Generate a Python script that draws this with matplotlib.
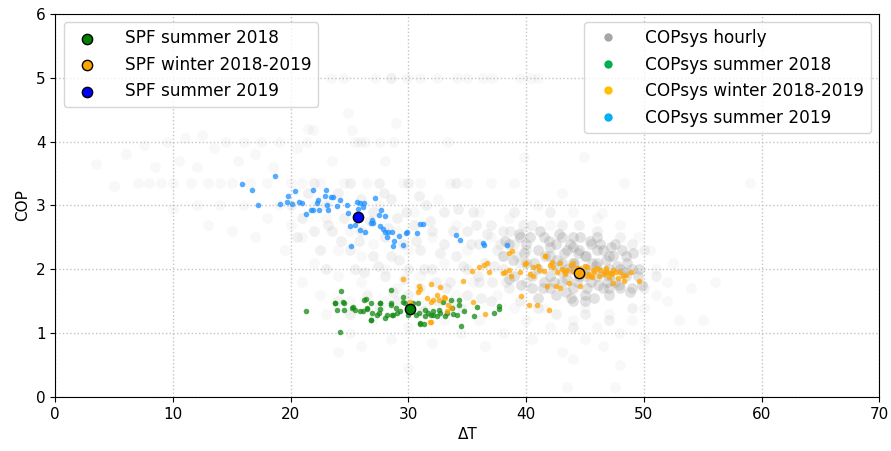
import numpy as np
import matplotlib.pyplot as plt
from matplotlib.lines import Line2D

# hourly COPsys (sparse / mid / dense parts)
hourly_sparse_dt = [3.5, 5, 6, 7, 7.5, 8, 8.5, 9, 9.5, 10, 10, 10.5, 11, 11.5, 12, 12, 12.5, 13, 13, 13.5,
                    14, 14, 14.5, 15, 15, 15.5, 16, 16, 16.5, 17, 17, 17.5, 18, 18, 18.5, 19, 19, 19.5, 20, 20,
                    20.5, 21, 21, 21, 21.5, 22, 22, 22.5, 22.5, 23, 23, 23.5, 24, 24, 24, 24.5, 25, 25, 25, 25.5,
                    26, 26, 26, 26.5, 27, 27, 27.5, 28, 28, 28, 28.5, 29, 29, 29.5, 30, 30, 30, 30.5, 31, 31,
                    31.5, 32, 32, 32.5, 33, 33, 33.5, 34, 34, 34.5, 35, 35, 35.5, 36, 36, 36.5, 37, 37, 37.5, 38,
                    38, 38.5, 39, 39, 40, 40, 40.5, 41, 41.5, 42, 42, 43, 43, 43.5, 44, 44, 45, 45, 46, 46,
                    46.5, 47, 47.5, 48, 48, 49, 49.5, 50, 50.5, 51, 51, 52, 52, 52.5, 53, 54, 55, 56, 44, 48,
                    50, 48.3, 59.0, 46.4,
                    23.4, 24.5, 27.2, 28.5, 28.5, 29.9, 31.0, 32.4, 34.1, 35.0, 36.3, 37.1, 39.5, 40.4, 41.0,
                    21.4, 25.9, 26.3, 27.6, 28.7, 33.4, 44.9, 39.8, 24.9, 28.9, 21.9, 25.2]
hourly_sparse_cop = [3.65, 3.3, 3.8, 3.35, 3.95, 3.35, 3.6, 3.35, 4.0, 3.35, 2.95, 3.7, 4.05, 3.35, 3.0, 3.6,
                     4.1, 3.35, 2.7, 3.9, 3.35, 3.0, 4.0, 3.35, 2.6, 3.7, 4.0, 3.0, 3.35, 2.5, 3.8, 4.0, 3.35,
                     2.8, 3.6, 4.0, 3.0, 2.3, 3.35, 2.7, 3.9, 3.35, 2.5, 1.8, 4.2, 3.0, 2.1, 3.35, 1.6, 2.8,
                     1.3, 3.7, 2.3, 1.9, 0.7, 3.35, 2.6, 1.5, 1.0, 4.0, 2.2, 1.8, 0.8, 3.35, 2.4, 1.2, 3.0,
                     2.0, 1.5, 3.7, 0.9, 2.6, 1.7, 3.35, 2.3, 1.1, 0.45, 2.9, 1.9, 3.35, 1.4, 2.5, 0.85, 3.1,
                     2.1, 1.2, 3.35, 2.7, 1.6, 1.0, 2.3, 3.35, 1.8, 2.9, 1.2, 0.8, 2.5, 3.35, 1.6, 2.2, 1.0,
                     2.8, 1.4, 3.35, 2.6, 1.2, 0.9, 3.0, 1.4, 2.7, 1.1, 0.7, 3.2, 0.15, 1.2, 2.9, 0.9, 1.4,
                     2.8, 1.1, 0.8, 1.3, 0.15, 1.0, 2.7, 1.2, 2.5, 1.4, 2.3, 1.6, 2.0, 1.8, 1.5, 2.1, 1.2, 1.7,
                     1.2, 1.8, 0.6, 0.5, 0.9, 3.35, 3.35, 2.88,
                     5.0, 5.0, 5.0, 5.0, 5.0, 5.0, 5.0, 5.0, 5.0, 5.0, 5.0, 5.0, 5.0, 5.0, 5.0,
                     4.0, 4.0, 4.0, 4.0, 4.0, 4.0, 3.76, 3.76, 4.45, 4.29, 4.18, 4.18]

hourly_mid_dt = [20, 20.5, 21, 21.5, 22, 22, 22.5, 23, 23, 23.5, 24, 24, 24.5, 25, 25, 25,
                 25.5, 26, 26, 26.5, 27, 27, 27.5, 27.5, 28, 28, 28.5, 28.5, 29, 29, 29.5, 30, 30, 30,
                 30.5, 31, 31, 31.5, 32, 32, 32.5, 33, 33, 33.5, 34, 34, 34.5, 35, 35, 35,
                 35.5, 36, 36, 36.5, 37, 37, 37.5, 38, 38, 38.5, 39, 39, 39.5, 39.5, 40, 40,
                 40.5, 41, 42, 42.5, 43, 44, 44.5, 45, 46, 47, 48, 49, 50, 50, 51, 49,
                 25.8, 26.7, 27.4, 28.3, 29.2, 29.8, 30.6, 31.3, 31.8, 32.7, 33.2, 33.8, 34.6, 35.3, 35.9,
                 36.7, 37.3, 37.8, 38.3, 39.2, 36.2, 34.2, 30.9, 27.9, 24.3, 23.2, 26.2, 29.6, 32.3, 35.7,
                 38.6, 37.1, 39.7, 33.7, 31.2, 28.7]
hourly_mid_cop = [3.0, 2.5, 2.8, 3.2, 2.6, 3.35, 2.3, 3.0, 2.0, 2.6, 3.2, 1.5, 2.8, 2.3, 3.35, 1.3,
                  2.0, 2.6, 3.1, 1.6, 2.9, 2.2, 3.35, 1.4, 2.5, 1.9, 3.1, 2.2, 2.8, 1.5, 2.4, 3.35, 2.0, 1.6,
                  2.7, 2.3, 1.7, 3.0, 2.0, 2.6, 1.5, 2.9, 2.4, 1.8, 3.35, 2.2, 1.4, 2.6, 2.0, 1.6,
                  2.9, 2.4, 1.8, 2.1, 2.7, 1.5, 2.3, 2.0, 2.6, 1.7, 2.4, 2.9, 2.1, 1.5, 2.3, 1.8,
                  2.7, 1.4, 2.9, 1.3, 2.7, 1.1, 2.7, 1.3, 2.6, 1.2, 2.5, 1.4, 2.3, 1.7, 1.9, 2.4,
                  2.45, 2.75, 2.05, 2.65, 2.15, 2.9, 2.45, 2.0, 2.75, 2.25, 1.7, 2.6, 2.05, 2.4, 1.9,
                  2.55, 2.05, 2.4, 1.8, 2.2, 1.55, 2.95, 3.15, 3.2, 2.45, 2.7, 1.95, 1.85, 1.8, 2.7,
                  2.6, 1.8, 2.7, 1.45, 1.35, 1.65]

hourly_core_dt = [38, 38.5, 39, 39.5, 40, 40, 40.5, 41, 41, 41.5, 41.5, 42, 42, 42.5, 42.5, 43, 43, 43.5,
                  43.5, 44, 44, 44, 44.5, 44.5, 45, 45, 45, 45.5, 45.5, 46, 46, 46.5, 46.5, 47, 47, 47.5,
                  47.5, 48, 48, 48.5, 48.5, 49, 49, 49.5, 43, 46, 42, 45, 47, 44,
                  38.2, 39.4, 40.3, 41.2, 41.9, 42.8, 43.7, 44.6, 45.4, 46.3, 47.2, 48.1, 49.1,
                  38.9, 39.8, 40.7, 41.6, 42.3, 43.2, 44.1, 45.1, 45.9, 46.8, 47.7, 48.6, 49.6, 42.0, 44.0,
                  46.0, 43.0, 45.0, 47.0,
                  38.5, 39.6, 40.5, 41.4, 42.4, 43.4, 44.3, 45.2, 46.1, 47.0, 47.9, 48.8, 49.8, 43.8, 45.8,
                  41.0,
                  42.6, 43.5, 44.4, 44.9, 45.6, 46.5, 47.4, 48.3, 43.9, 46.9]
hourly_core_cop = [2.2, 2.4, 1.9, 2.5, 2.1, 2.4, 1.7, 2.3, 2.0, 2.5, 1.8, 2.2, 1.9, 2.4, 1.6, 2.1, 1.8, 2.3,
                   2.0, 2.5, 1.7, 2.1, 1.9, 2.3, 2.2, 1.6, 2.0, 2.4, 1.8, 2.1, 1.9, 2.3, 1.7, 2.0, 2.2, 1.8,
                   2.4, 2.0, 1.7, 2.2, 1.9, 2.0, 1.7, 1.9, 2.5, 2.5, 1.7, 1.5, 1.6, 1.5,
                   2.45, 2.55, 2.5, 2.6, 2.45, 2.55, 2.4, 2.5, 2.45, 2.4, 2.35, 2.3, 2.25,
                   2.15, 2.25, 2.1, 2.2, 2.05, 2.25, 2.1, 2.2, 2.05, 2.15, 2.05, 2.1, 2.0, 2.35, 2.35,
                   2.3, 1.95, 1.9, 1.9,
                   1.85, 1.75, 1.9, 1.7, 1.8, 1.65, 1.8, 1.7, 1.75, 1.7, 1.75, 1.65, 1.75, 1.55, 1.55,
                   1.55,
                   2.15, 1.85, 2.25, 1.95, 2.1, 1.95, 2.2, 1.95, 2.0, 1.8]

# COPsys summer 2018
s18_dt = [21.3, 24.3, 24.2, 23.8, 24.4, 24.5, 23.9, 25.2, 25.5, 26.1, 26.2, 26.4, 26.5, 26.8, 26.9, 27.3,
          27.6, 27.6, 28.0, 28.5, 28.5, 28.6, 28.9, 29.3, 29.5, 30.6, 30.8, 31.0, 31.3, 31.4, 31.7, 31.9,
          32.1, 32.4, 32.6, 32.9, 33.1, 33.6, 33.7, 33.8, 34.1, 34.3, 34.3, 34.5, 34.7, 35.6, 35.8, 37.3,
          37.7, 37.7, 23.8, 24.5, 25.3, 25.9, 26.5, 26.8, 27.5, 27.6, 28.2, 28.5, 29.0, 29.5, 29.7, 30.4,
          31.0, 31.4, 32.1, 32.7, 33.3, 26.8, 28.7, 30.0, 30.9]
s18_cop = [1.34, 1.66, 1.02, 1.47, 1.48, 1.36, 1.36, 1.39, 1.36, 1.34, 1.52, 1.53, 1.37, 1.21, 1.31, 1.29,
           1.47, 1.37, 1.23, 1.68, 1.44, 1.29, 1.39, 1.34, 1.49, 1.29, 1.47, 1.14, 1.14, 1.36, 1.31, 1.29,
           1.29, 1.27, 1.36, 1.49, 1.26, 1.52, 1.39, 1.30, 1.29, 1.52, 1.44, 1.11, 1.34, 1.27, 1.41, 1.32,
           1.42, 1.37, 1.47, 1.47, 1.41, 1.34, 1.39, 1.47, 1.31, 1.47, 1.29, 1.47, 1.31, 1.56, 1.47, 1.47,
           1.15, 1.26, 1.34, 1.31, 1.31, 1.21, 1.29, 1.29, 1.31]

# COPsys winter 2018-2019
w18_dt = [29.5, 30.9, 31.0, 30.8, 31.9, 31.6, 31.9, 32.1, 32.4, 32.6, 33.1, 33.3, 33.6, 33.4, 31.9, 30.1,
          34.6, 35.5, 36.5, 32.7, 33.0, 31.8,
          35.4, 36.0, 36.4, 36.7, 36.8, 38.0, 38.2, 38.5, 38.7, 38.5, 38.8, 39.5, 40.0, 40.6, 41.1, 41.6,
          42.2, 42.3, 42.9, 43.5, 44.0, 45.2, 45.7, 46.3, 46.9, 47.4, 48.0, 48.9, 49.6, 41.8, 42.5, 42.9,
          43.6, 44.6, 47.4, 48.3, 39.6, 40.2, 40.9, 41.9, 39.9, 40.6, 41.6,
          44.0, 44.8, 45.3, 45.8, 46.2, 46.6, 47.0, 47.3, 47.8, 48.2, 44.5, 45.0, 46.0, 43.3, 43.0, 42.6,
          41.5, 41.0, 40.3, 45.6, 46.8, 47.6, 43.8, 44.3, 45.5, 46.6, 47.2, 48.5, 45.2, 42.0, 43.2]
w18_cop = [1.84, 1.74, 1.69, 1.65, 1.77, 1.55, 1.49, 1.52, 1.60, 1.52, 1.55, 1.34, 1.39, 1.44, 1.18, 1.49,
           1.82, 1.49, 1.30, 1.72, 1.57, 1.18,
           1.97, 2.04, 2.07, 2.10, 1.96, 1.94, 1.96, 1.99, 1.89, 2.25, 2.28, 1.96, 2.10, 2.04, 1.99, 2.20,
           2.12, 2.04, 2.10, 1.99, 2.10, 2.04, 1.99, 1.99, 1.96, 1.99, 1.96, 1.96, 1.82, 1.74, 1.73, 1.70,
           1.78, 1.74, 1.78, 1.81, 1.58, 1.44, 1.44, 1.36, 2.08, 1.89, 2.20,
           1.98, 1.95, 1.92, 1.95, 1.90, 1.93, 1.88, 1.92, 1.86, 1.90, 2.02, 2.05, 2.02, 1.93, 2.00, 1.95,
           1.98, 2.05, 1.93, 1.88, 2.02, 1.95, 2.07, 2.02, 1.89, 1.96, 1.94, 1.91, 1.90, 2.06, 1.97]

# COPsys summer 2019
s19_dt = [15.9, 16.7, 18.7, 17.2, 19.1, 19.8, 20.4, 19.7, 20.1, 20.7, 21.0, 21.9, 23.0, 22.9, 22.3, 22.2,
          21.9, 21.7, 21.3, 22.4, 23.1, 23.2, 23.4, 23.6, 23.9, 24.2, 24.8, 24.9, 25.6, 25.9, 26.2, 26.1,
          25.7, 25.0, 25.5, 25.9, 26.3, 26.8, 26.9, 27.0, 27.2, 27.7, 27.5, 28.0, 27.6, 27.8, 28.0, 28.3,
          28.6, 28.8, 28.2, 28.7, 29.5, 29.2, 29.8, 29.9, 30.7, 31.0, 31.2, 25.1, 34.0, 34.4, 36.3, 36.4,
          38.4]
s19_cop = [3.33, 3.24, 3.46, 3.00, 3.02, 3.15, 3.22, 3.05, 3.02, 3.05, 3.04, 3.24, 3.24, 3.15, 3.09, 3.04,
           2.93, 2.93, 2.87, 2.93, 3.01, 2.93, 3.13, 3.13, 2.99, 3.09, 3.00, 2.88, 3.06, 3.04, 3.04, 2.98,
           2.94, 2.67, 2.69, 2.61, 2.58, 2.73, 2.77, 2.72, 3.11, 2.93, 2.85, 2.84, 2.67, 2.63, 2.59, 2.58,
           2.58, 2.45, 2.51, 2.36, 2.38, 2.52, 2.57, 2.58, 2.57, 2.71, 2.71, 2.36, 2.54, 2.46, 2.41, 2.38,
           2.38]

# seasonal performance factors
spf_labels = ['SPF summer 2018', 'SPF winter 2018-2019', 'SPF summer 2019']
spf_dt = [30.1, 44.5, 25.7]
spf_cop = [1.38, 1.94, 2.82]
spf_colors = ['green', 'orange', 'blue']

fig = plt.figure(figsize=(8.91, 4.51), dpi=100)
ax = fig.add_axes([0.062, 0.12, 0.925, 0.849])

grey = '#888888'
ax.scatter(hourly_sparse_dt, hourly_sparse_cop, s=60, color=grey, alpha=0.06, lw=0)
ax.scatter(hourly_mid_dt, hourly_mid_cop, s=60, color=grey, alpha=0.11, lw=0)
ax.scatter(hourly_core_dt, hourly_core_cop, s=60, color=grey, alpha=0.24, lw=0)

ax.scatter(s18_dt, s18_cop, s=16, color='#138a13', alpha=0.75, lw=0)
ax.scatter(w18_dt, w18_cop, s=16, color='orange', alpha=0.75, lw=0)
ax.scatter(s19_dt, s19_cop, s=16, color='dodgerblue', alpha=0.75, lw=0)

spf_handles = []
for x, y, c, lab in zip(spf_dt, spf_cop, spf_colors, spf_labels):
    h = ax.scatter([x], [y], s=55, color=c, edgecolors='black', linewidths=1.0, zorder=5, label=lab)
    spf_handles.append(h)

ax.set_xlim(0, 70)
ax.set_ylim(0, 6)
ax.set_xticks(range(0, 71, 10))
ax.set_yticks(range(0, 7))
ax.tick_params(labelsize=11)
ax.set_xlabel('ΔT', fontsize=11)
ax.set_ylabel('COP', fontsize=11)
ax.grid(True, linestyle=':', color='#c4c4c4', linewidth=1)
ax.set_axisbelow(True)

leg1 = ax.legend(handles=spf_handles, loc='upper left', fontsize=12.2, handletextpad=1.2)
ax.add_artist(leg1)

cop_handles = [
    Line2D([], [], ls='none', marker='o', ms=5, color='#a6a6a6', label='COPsys hourly'),
    Line2D([], [], ls='none', marker='o', ms=5, color='#00b050', label='COPsys summer 2018'),
    Line2D([], [], ls='none', marker='o', ms=5, color='#ffc000', label='COPsys winter 2018-2019'),
    Line2D([], [], ls='none', marker='o', ms=5, color='#00b0f0', label='COPsys summer 2019'),
]
ax.legend(handles=cop_handles, loc='upper right', fontsize=12.2, handletextpad=1.2)

fig.savefig('out.png', dpi=100)
